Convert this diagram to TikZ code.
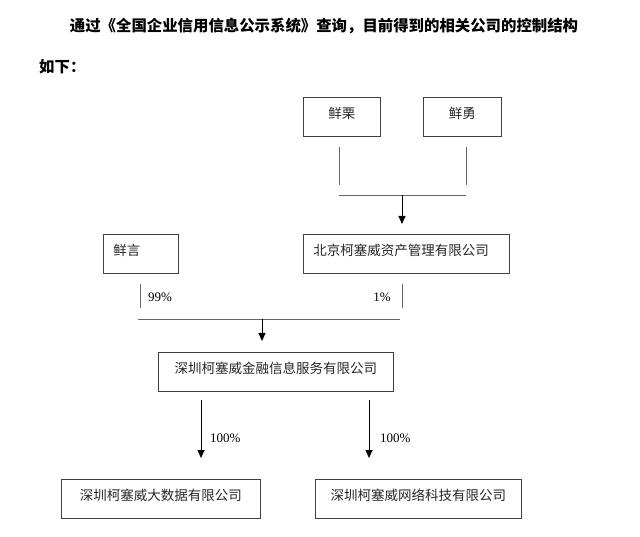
\documentclass[tikz,border=0pt]{standalone}
\usepackage{fontspec}
\setmainfont{Liberation Serif}
\newfontfamily\cjk{Noto Sans CJK SC}
\usetikzlibrary{arrows.meta,positioning}
\tikzset{
  head/.style={font=\cjk\bfseries\fontsize{15.4}{19}\selectfont,inner sep=0pt},
  firm/.style={draw=black!75,line width=0.9pt,anchor=north west,inner xsep=10pt,inner ysep=0pt,
    text height=21pt,text depth=18pt,text=black!85,font=\cjk\fontsize{13.5}{16}\selectfont},
  pct/.style={font=\fontsize{13}{15}\selectfont,inner sep=0pt},
  tie/.style={draw=black!60,line width=0.8pt},
  own/.style={draw=black,line width=1pt,-{Triangle[length=8pt,width=7pt]}}
}

\begin{document}
\begin{tikzpicture}[x=1pt,y=-1pt]
  \useasboundingbox (0,0) rectangle (640,537);
  \node[head] (title) at (324,26) {通过《全国企业信用信息公示系统》查询，目前得到的相关公司的控制结构};
  \node[head,anchor=west] (intro) at (39,67) {如下：};
  % shareholders
  \node[firm,minimum width=77pt] (xli) at (303,97) {鲜栗};
  \node[firm,minimum width=78pt] (xyong) at (423,97) {鲜勇};
  \node[firm,text width=55pt,align=left] (xyan) at (103,234) {鲜言};
  \node[firm,text width=186pt,align=left] (bjam) at (303,234) {北京柯塞威资产管理有限公司};
  % subsidiaries
  \node[firm,minimum width=235pt] (szfin) at (158,352) {深圳柯塞威金融信息服务有限公司};
  \node[firm,minimum width=199pt] (szdata) at (61,479) {深圳柯塞威大数据有限公司};
  \node[firm,minimum width=206pt] (sznet) at (315,479) {深圳柯塞威网络科技有限公司};
  % free ends of the links
  \foreach \n/\x/\y in {liT/339/147,liB/339/185,yoT/466/147,yoB/466/185,
                        topL/339/195,topR/466/195,topM/402/195,bjIn/402/224,
                        yaT/140/284,yaB/140/308,bjT/402/284,bjB/402/308,
                        midL/138/319,midR/400/319,midM/262/319,finIn/262/341,
                        dOut/201/400,dIn/201/458,nOut/369/400,nIn/369/458}
    \coordinate (\n) at (\x,\y);
  \draw[tie] (liT) -- (liB) (yoT) -- (yoB) (topL) -- (topR);
  \draw[own] (topM) -- (bjIn);
  \draw[tie] (yaT) -- (yaB) (bjT) -- (bjB) (midL) -- (midR);
  \draw[own] (midM) -- (finIn);
  \node[pct,anchor=west] (p99) at (148,297) {99\%};
  \node[pct,anchor=east] (p1) at (391,297) {1\%};
  \draw[own] (dOut) -- (dIn);
  \draw[own] (nOut) -- (nIn);
  \node[pct,anchor=west] (pdata) at (210,438) {100\%};
  \node[pct,anchor=west] (pnet) at (380,438) {100\%};
\end{tikzpicture}
\end{document}
